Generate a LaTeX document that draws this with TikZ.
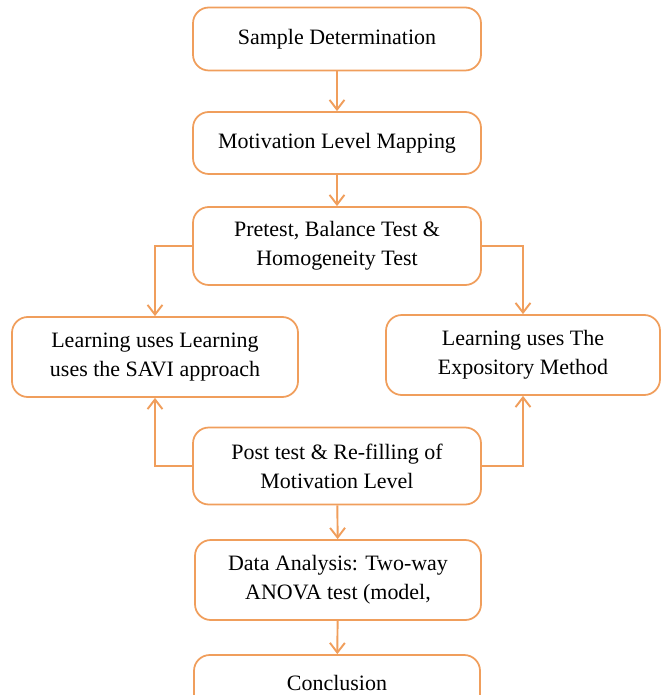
\documentclass[tikz,border=0pt]{standalone}
\usepackage{fontspec}
\setmainfont{Liberation Serif}
\newfontfamily\stagefont{Liberation Serif}
\usepackage{tikz}
\usetikzlibrary{arrows.meta}
\definecolor{boxorange}{RGB}{240,158,92}

\tikzset{
	stage/.style={shape=rectangle, rounded corners=9pt, draw=boxorange, line width=1pt,
		align=center, inner sep=0pt, font=\stagefont\fontsize{12.5}{16.5}\selectfont},
	flow/.style={draw=boxorange, line width=1.1pt, -{Straight Barb[length=5.5pt,width=8.5pt]}}
}

\begin{document}
\begin{tikzpicture}[x=0.02cm, y=-0.02cm]
	\useasboundingbox (0,0) rectangle (660,695);

	\node (sample) at (337,39) [stage, minimum width=288*0.02cm, minimum height=63*0.02cm] {Sample Determination};
	\node (mapping) at (337,143) [stage, minimum width=288*0.02cm, minimum height=62*0.02cm] {Motivation Level Mapping};
	\node (pretest) at (337,246) [stage, minimum width=288*0.02cm, minimum height=78*0.02cm] {Pretest, Balance Test \&\\Homogeneity Test};
	\node (savi) at (155,357) [stage, minimum width=286*0.02cm, minimum height=80*0.02cm] {Learning uses Learning\\uses the SAVI approach};
	\node (expo) at (523,355) [stage, minimum width=274*0.02cm, minimum height=80*0.02cm] {Learning uses The\\Expository Method};
	\node (post) at (337,466) [stage, minimum width=288*0.02cm, minimum height=77*0.02cm] {Post test \& Re-filling of\\Motivation Level};
	\node (analysis) at (338,580) [stage, minimum width=286*0.02cm, minimum height=80*0.02cm] {Data Analysis: Two-way\\ANOVA test (model,};
	\node (conclusion) at (337,683) [stage, minimum width=286*0.02cm, minimum height=56*0.02cm] {Conclusion};

	\path 	[flow]	(sample)	edge	(mapping)
			(mapping)	edge	(pretest)
			(post)	edge	(analysis)
			(analysis)	edge	(conclusion);

	\draw [flow] (pretest.west) -| (savi.north);
	\draw [flow] (pretest.east) -| (expo.north);
	\draw [flow] (post.west) -| (savi.south);
	\draw [flow] (post.east) -| (expo.south);
\end{tikzpicture}
\end{document}
